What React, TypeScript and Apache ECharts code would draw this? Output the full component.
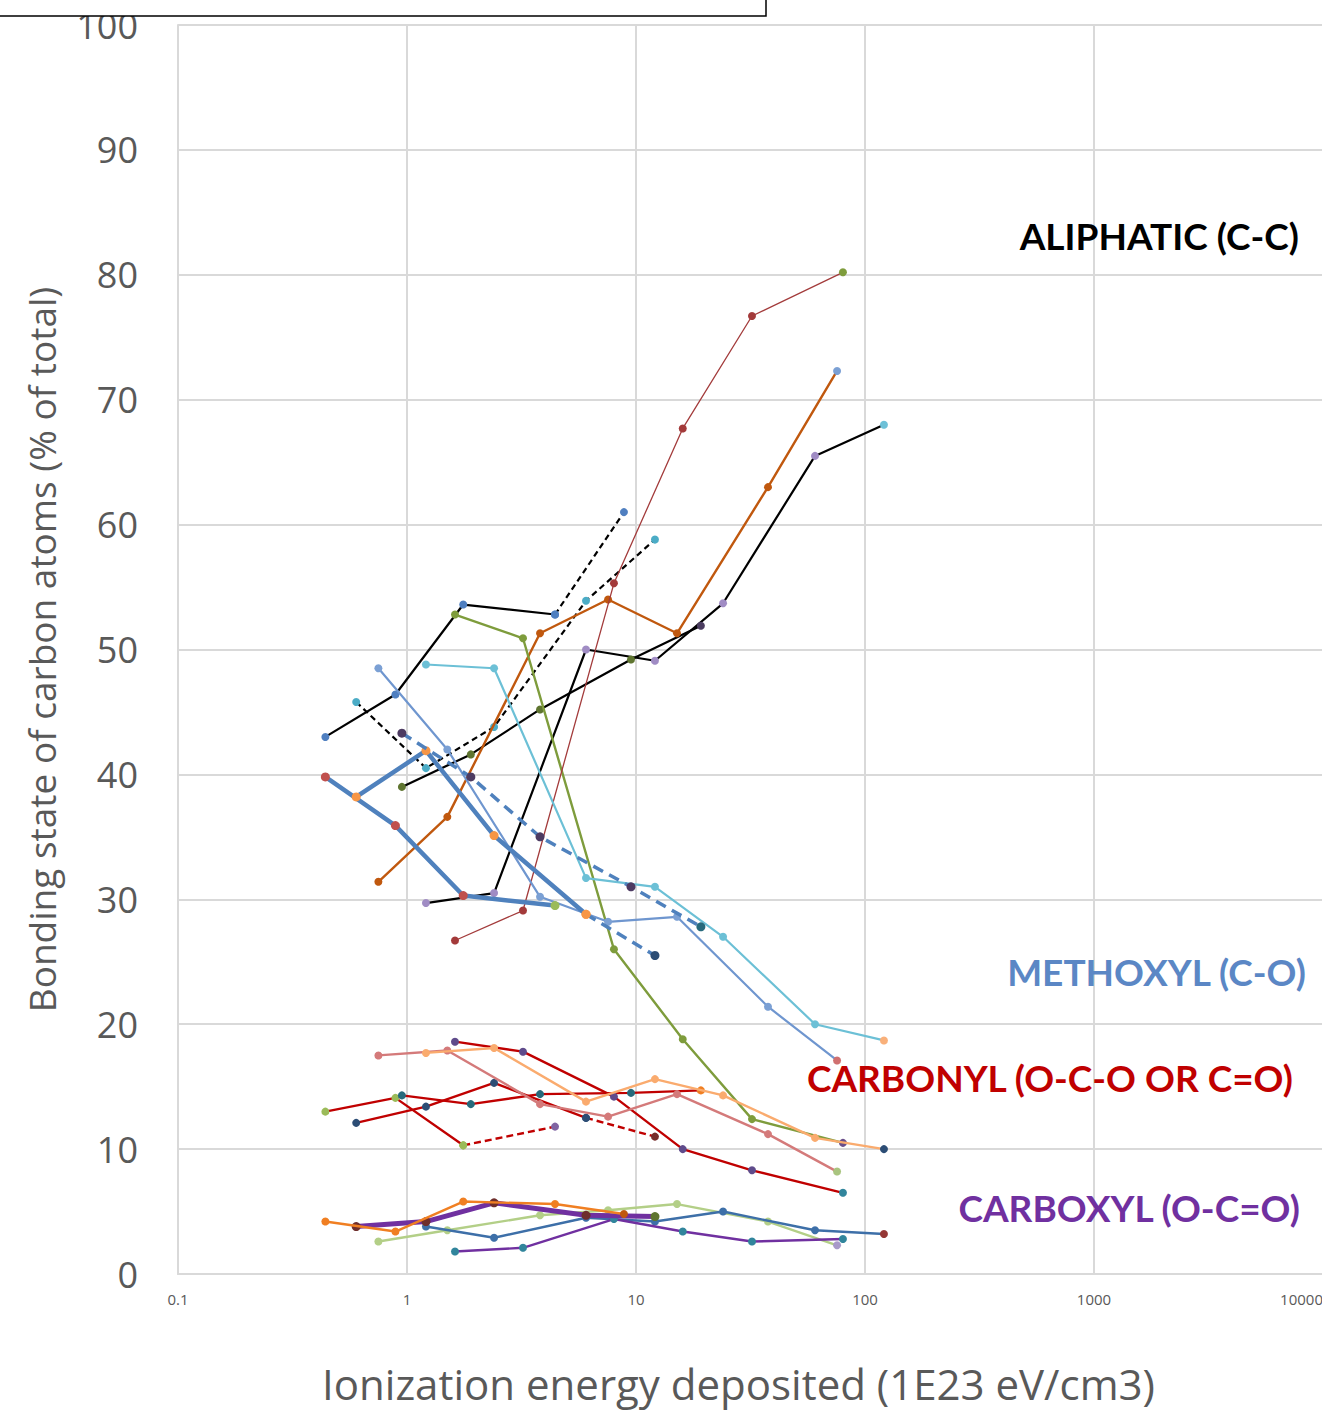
import React, { useEffect, useRef } from "react";
import * as echarts from "echarts";

// ---------- tick labels ----------
const xTickLabels = ["0.1", "1", "10", "100", "1000", "10000"];

// ---------- exposure levels (1E23 eV/cm3) of the sample sets ----------
const dosesA = [0.44, 0.89, 1.76, 4.43, 8.86];
const dosesB = [0.6, 1.21, 2.4, 6.05, 12.1, 24, 60.5, 121];
const dosesC = [0.75, 1.5, 3.81, 7.55, 15.1, 37.7, 75.5];
const dosesD = [0.95, 1.9, 3.81, 9.51, 19.2];
const dosesE = [1.62, 3.21, 8.01, 16.0, 32.1, 80.1];

// ---------- aliphatic (C-C) ----------
const aliA = [43.0, 46.4, 53.6, 52.8, 61.0];
const aliB = [45.8, 40.5, 43.8, 53.9, 58.8];
const aliB2 = [29.7, 30.5, 50.0, 49.1, 53.7, 65.5, 68.0];
const aliC = [31.4, 36.6, 51.3, 54.0, 51.3, 63.0, 72.3];
const aliD = [39.0, 41.6, 45.2, 49.2, 51.9];
const aliE = [26.7, 29.1, 55.3, 67.7, 76.7, 80.2];
const oliveE = [52.8, 50.9, 26.0, 18.8, 12.4, 10.5];

// ---------- methoxyl (C-O) ----------
const metA = [39.8, 35.9, 30.3, 29.5];
const metB = [38.2, 41.9, 35.1, 28.8, 25.5];
const metB2 = [48.8, 48.5, 31.7, 31.0, 27.0, 20.0, 18.7];
const metC = [48.5, 42.0, 30.2, 28.2, 28.6, 21.4, 17.1];
const metD = [43.3, 39.8, 35.0, 31.0, 27.8];

// ---------- carbonyl (O-C-O or C=O) ----------
const carbA = [13.0, 14.1, 10.3, 11.8];
const carbB = [12.1, 13.4, 15.3, 12.5, 11.0];
const carbB2 = [17.7, 18.1, 13.8, 15.6, 14.3, 10.9, 10.0];
const carbC = [17.5, 17.9, 13.6, 12.6, 14.4, 11.2, 8.2];
const carbD = [14.3, 13.6, 14.4, 14.5, 14.7];
const carbE = [18.6, 17.8, 14.2, 10.0, 8.3, 6.5];

// ---------- carboxyl (O-C=O) ----------
const coohA = [4.2, 3.4, 5.8, 5.6, 4.8];
const coohB = [3.8, 4.2, 5.7, 4.7, 4.6];
const coohB2 = [3.8, 2.9, 4.5, 4.2, 5.0, 3.5, 3.2];
const coohC = [2.6, 3.5, 4.7, 5.1, 5.6, 4.2, 2.3];
const coohE = [1.8, 2.1, 4.4, 3.4, 2.6, 2.8];

type Spec = {
  xs: number[];
  ys: number[];
  color: string;
  width: number;
  marker: string;
  lastMarker?: string;
  dashFrom?: number; // index from which the line continues dashed
  dashWidth?: number;
  dash?: number[];
  allDashed?: boolean;
  symbolSize?: number;
};

const BLACK_DASH = [6, 4];
const BLUE_DASH = [11, 7];
const RED_DASH = [7, 4];

const specs: Spec[] = [
  // aliphatic
  { xs: dosesA, ys: aliA, color: "#000000", width: 2.2, marker: "#4F7FC0", dashFrom: 3, dash: BLACK_DASH },
  { xs: dosesB.slice(0, 5), ys: aliB, color: "#000000", width: 2.2, marker: "#4BACC6", allDashed: true, dash: BLACK_DASH },
  { xs: dosesB.slice(1), ys: aliB2, color: "#000000", width: 2.2, marker: "#A08CC4", lastMarker: "#6EC1D8" },
  { xs: dosesD, ys: aliD, color: "#000000", width: 2.2, marker: "#5F7530", lastMarker: "#4B3D60" },
  { xs: dosesC, ys: aliC, color: "#C0580E", width: 2.4, marker: "#C0580E", lastMarker: "#7BA0D4" },
  { xs: dosesE, ys: oliveE, color: "#7E9C3C", width: 2.4, marker: "#7E9C3C", lastMarker: "#6A4F8A" },
  { xs: dosesE, ys: aliE, color: "#A33B3B", width: 1.3, marker: "#A33A3A", lastMarker: "#7E9C3C" },
  // methoxyl
  { xs: dosesC, ys: metC, color: "#6F96CF", width: 2.2, marker: "#7BA0D4", lastMarker: "#D07070" },
  { xs: dosesB.slice(1), ys: metB2, color: "#6CC0D6", width: 2.2, marker: "#6CC0D6", lastMarker: "#F9B07A" },
  { xs: dosesA.slice(0, 4), ys: metA, color: "#4F81BD", width: 4.5, marker: "#C0504D", lastMarker: "#9BBB59", symbolSize: 9 },
  { xs: dosesB.slice(0, 5), ys: metB, color: "#4F81BD", width: 4.5, marker: "#F79646", lastMarker: "#2C4D75", dashFrom: 3, dashWidth: 3.5, dash: BLUE_DASH, symbolSize: 9 },
  { xs: dosesD, ys: metD, color: "#4F81BD", width: 3.5, marker: "#4D3B62", lastMarker: "#276A7C", allDashed: true, dash: BLUE_DASH, symbolSize: 9 },
  // carbonyl
  { xs: dosesA.slice(0, 4), ys: carbA, color: "#C00000", width: 2.4, marker: "#9BBB59", lastMarker: "#8064A2", dashFrom: 2, dash: RED_DASH },
  { xs: dosesD, ys: carbD, color: "#C00000", width: 2.4, marker: "#276A7C", lastMarker: "#F07F22" },
  { xs: dosesB.slice(0, 5), ys: carbB, color: "#C00000", width: 2.4, marker: "#2C4D75", lastMarker: "#772C2A", dashFrom: 3, dash: RED_DASH },
  { xs: dosesE, ys: carbE, color: "#C00000", width: 2.4, marker: "#5F4B8B", lastMarker: "#31859C" },
  { xs: dosesC, ys: carbC, color: "#D47A7A", width: 2.4, marker: "#D47A7A", lastMarker: "#A9C47F" },
  { xs: dosesB.slice(1), ys: carbB2, color: "#FAAB6E", width: 2.4, marker: "#FAAB6E", lastMarker: "#2C4D75" },
  // carboxyl
  { xs: dosesC, ys: coohC, color: "#B3CF87", width: 2.4, marker: "#B3CF87", lastMarker: "#A899C9" },
  { xs: dosesB.slice(1), ys: coohB2, color: "#3D6FA8", width: 2.4, marker: "#3D6FA8", lastMarker: "#953735" },
  { xs: dosesE, ys: coohE, color: "#7030A0", width: 2.4, marker: "#31859C" },
  { xs: dosesB.slice(0, 5), ys: coohB, color: "#7030A0", width: 5, marker: "#6E2E2C", lastMarker: "#5F7530", symbolSize: 9 },
  { xs: dosesA, ys: coohA, color: "#F07F22", width: 2.4, marker: "#F07F22", lastMarker: "#C0580E" },
];

function buildSeries(specList: Spec[]) {
  const out: any[] = [];
  specList.forEach((s, si) => {
    const n = s.ys.length;
    const pts = s.ys.map((y, i) => ({
      value: [s.xs[i], y],
      itemStyle: { color: i === n - 1 && s.lastMarker ? s.lastMarker : s.marker },
    }));
    const base = {
      type: "line",
      symbol: "circle",
      symbolSize: s.symbolSize ?? 8,
      showSymbol: true,
      silent: true,
      z: 2 + si * 0.01,
      emphasis: { disabled: true },
    };
    if (s.allDashed) {
      out.push({ ...base, data: pts, lineStyle: { color: s.color, width: s.width, type: s.dash } });
    } else if (s.dashFrom !== undefined) {
      out.push({ ...base, data: pts.slice(0, s.dashFrom + 1), lineStyle: { color: s.color, width: s.width } });
      out.push({
        ...base,
        data: pts.slice(s.dashFrom),
        lineStyle: { color: s.color, width: s.dashWidth ?? s.width, type: s.dash },
      });
    } else {
      out.push({ ...base, data: pts, lineStyle: { color: s.color, width: s.width } });
    }
  });
  return out;
}

const GRID = "#D9D9D9";
const AXIS_TEXT = "#595959";

const labelStyle = (text: string, fill: string) => ({
  text,
  fill,
  font: "bold 37px Lato",
  align: "right",
  verticalAlign: "middle",
  textAlign: "right",
  textVerticalAlign: "middle",
});

export default function App() {
  const ref = useRef<HTMLDivElement>(null);
  useEffect(() => {
    if (!ref.current) return;
    const chart = echarts.init(ref.current, null, { renderer: "svg" });
    chart.setOption({
      animation: false,
      backgroundColor: "#ffffff",
      grid: {
        left: 178,
        top: 25,
        width: 1145,
        height: 1249,
        containLabel: false,
        outerBoundsMode: "none",
      },
      xAxis: {
        type: "log",
        logBase: 10,
        min: 0.1,
        max: 10000,
        name: "Ionization energy deposited (1E23 eV/cm3)",
        nameLocation: "middle",
        nameGap: 88,
        nameTextStyle: { fontFamily: "Open Sans", fontSize: 42, color: AXIS_TEXT, padding: [0, 24, 0, 0] },
        axisLine: { show: true, lineStyle: { color: GRID, width: 2 } },
        axisTick: { show: false },
        minorTick: { show: false },
        splitLine: { show: true, lineStyle: { color: GRID, width: 2 } },
        axisLabel: {
          fontFamily: "Open Sans",
          fontSize: 15,
          color: AXIS_TEXT,
          margin: 17,
          alignMaxLabel: "right",
          formatter: (v: number) => {
            const idx = Math.round(Math.log10(v)) + 1;
            return xTickLabels[idx] ?? String(v);
          },
        },
      },
      yAxis: {
        type: "value",
        min: 0,
        max: 100,
        interval: 10,
        name: "Bonding state of carbon atoms (% of total)",
        nameLocation: "middle",
        nameGap: 118,
        nameTextStyle: { fontFamily: "Open Sans", fontSize: 37, color: AXIS_TEXT },
        axisLine: { show: true, lineStyle: { color: GRID, width: 2 } },
        axisTick: { show: false },
        splitLine: { show: true, lineStyle: { color: GRID, width: 2 } },
        axisLabel: { fontFamily: "Open Sans", fontSize: 36, color: AXIS_TEXT, margin: 40 },
      },
      series: buildSeries(specs),
      graphic: [
        {
          type: "rect",
          z: 100,
          shape: { x: -2, y: -20, width: 768, height: 36 },
          style: { fill: "#ffffff", stroke: "#000000", lineWidth: 1.5 },
        },
        { type: "text", z: 100, x: 1299, y: 235, style: labelStyle("ALIPHATIC (C-C)", "#000000") },
        { type: "text", z: 100, x: 1306, y: 971, style: labelStyle("METHOXYL (C-O)", "#5B87C5") },
        { type: "text", z: 100, x: 1293, y: 1077, style: labelStyle("CARBONYL (O-C-O OR C=O)", "#C00000") },
        { type: "text", z: 100, x: 1300, y: 1207, style: labelStyle("CARBOXYL (O-C=O)", "#7030A0") },
      ],
    });
    return () => chart.dispose();
  }, []);

  return (
    <div
      ref={ref}
      style={{ position: "absolute", left: 0, top: 0, width: 1322, height: 1411, background: "#fff" }}
    />
  );
}
